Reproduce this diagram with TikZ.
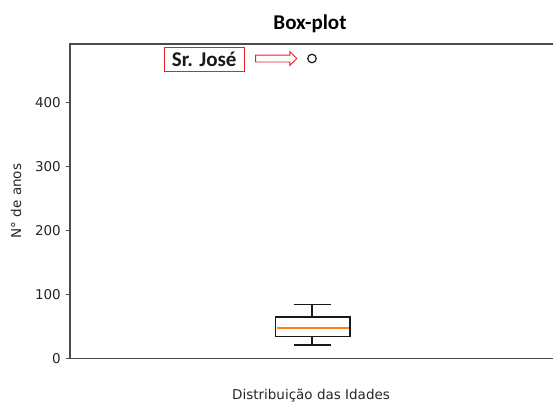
\documentclass[tikz,border=0pt]{standalone}
\usepackage{fontspec}
\setmainfont{DejaVu Sans}
\newfontfamily\calib{Carlito}
\usetikzlibrary{shapes.arrows}
\definecolor{mplorange}{RGB}{255,127,14}
\definecolor{annred}{RGB}{232,32,42}
\begin{document}
\begin{tikzpicture}[x=1pt,y=-1pt,
  spine/.style={draw=black!70,line width=1.3pt},
  ticklab/.style={anchor=east,inner sep=0pt,font=\fontsize{13.5}{14}\selectfont,text=black!85},
  boxline/.style={draw=black!90,line width=1.3pt},
  axlab/.style={inner sep=0pt,font=\fontsize{13.5}{14}\selectfont,text=black!85}]
\useasboundingbox (0,0) rectangle (553,405);
% axes
\coordinate (tl) at (70,44);
\coordinate (bl) at (70,358.5);
\coordinate (tr) at (553,44);
\coordinate (br) at (553,358.5);
\draw[spine] (tr) -- (tl) -- (bl) -- (br);
% ticks
\foreach \v in {0,100,200,300,400}{
  \coordinate (t\v) at (70,{358.5-0.64*\v});
  \draw[spine,line width=1pt] (t\v) -- ++(-4.5,0);
  \node[ticklab] (l\v) at ([xshift=-9pt]t\v) {\v};
}
% labels
\node[font=\calib\bfseries\fontsize{21}{22}\selectfont,inner sep=0pt] (title) at (310,24) {Box-plot};
\node[axlab] (xlab) at (311,396) {Distribuição das Idades};
\node[axlab,rotate=90] (ylab) at (16,201) {N° de anos};
% box plot
\draw[boxline] (275.7,317) rectangle (350,336.7);
\draw[color=mplorange,line width=1.6pt] (276.5,327.7) -- (349.2,327.7);
\draw[boxline] (312,317) -- (312,304.3);
\draw[boxline] (294,304.3) -- (331.3,304.3);
\draw[boxline] (312,336.7) -- (312,345);
\draw[boxline] (294,345) -- (331.3,345);
% outlier
\node[circle,draw=black!90,line width=1.2pt,minimum size=8.5pt,inner sep=0pt] (out) at (312,58.5) {};
% annotation
\node[draw=annred,line width=1pt,font=\calib\bfseries\fontsize{21}{22}\selectfont,text=black!90,minimum width=80pt,minimum height=24.5pt,inner sep=1pt] (jose) at (204.2,59.7) {Sr. José};
\node[single arrow,draw=annred,fill=white,line width=0.9pt,inner sep=3pt,minimum height=41pt,single arrow head extend=3.4pt,single arrow head indent=0pt,anchor=west] (arr) at ([xshift=10.5pt]jose.east |- out) {};
\end{tikzpicture}
\end{document}
